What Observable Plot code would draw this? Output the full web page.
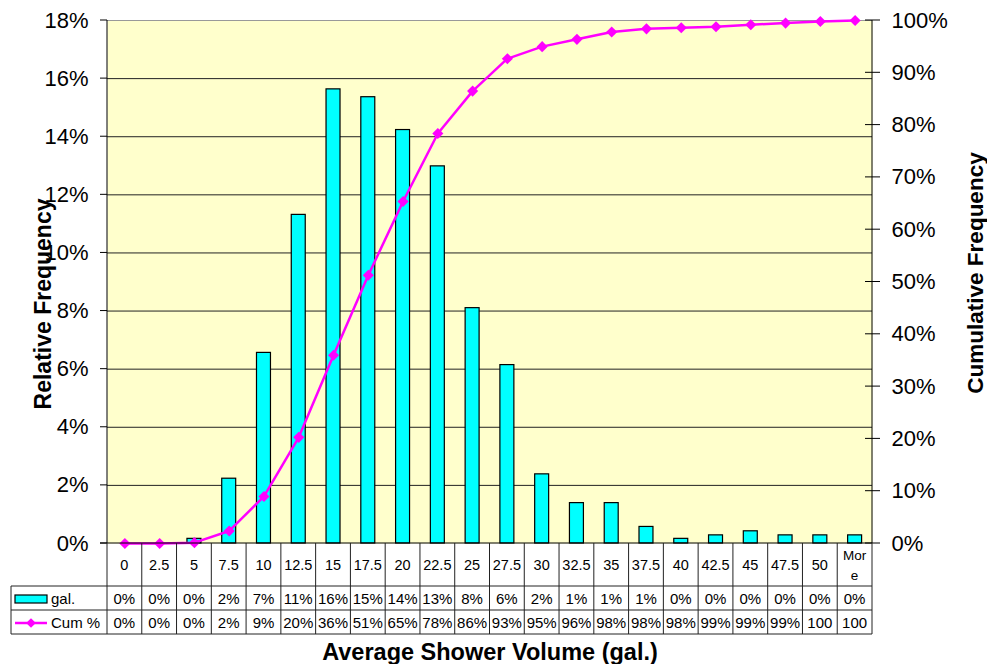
<!DOCTYPE html>
<html>
<head>
<meta charset="utf-8">
<script src="https://cdn.jsdelivr.net/npm/d3@7"></script>
<script src="https://cdn.jsdelivr.net/npm/@observablehq/plot@0.6"></script>
<style>
  html, body { margin: 0; padding: 0; background: #fff; }
  svg { display: block; font-family: Arial, "Liberation Sans", sans-serif; }
</style>
</head>
<body>
<div id="chart"></div>
<script>
// ---- data ----
const categories = ["0","2.5","5","7.5","10","12.5","15","17.5","20","22.5","25","27.5","30","32.5","35","37.5","40","42.5","45","47.5","50","More"];
// relative frequency (%) — bars
const relFreq = [0, 0, 0.16, 2.23, 6.56, 11.31, 15.63, 15.36, 14.23, 12.98, 8.10, 6.14, 2.38, 1.39, 1.39, 0.57, 0.16, 0.28, 0.42, 0.28, 0.28, 0.28];
// cumulative frequency (%) — line
const cumFreq = [0, 0, 0.16, 2.4, 9.0, 20.3, 36.0, 51.3, 65.4, 78.4, 86.5, 92.7, 95.0, 96.4, 97.8, 98.4, 98.6, 98.8, 99.2, 99.5, 99.8, 100];
// data-table labels
const galLabels = ["0%","0%","0%","2%","7%","11%","16%","15%","14%","13%","8%","6%","2%","1%","1%","1%","0%","0%","0%","0%","0%","0%"];
const cumLabels = ["0%","0%","0%","2%","9%","20%","36%","51%","65%","78%","86%","93%","95%","96%","98%","98%","98%","99%","99%","99%","100","100"];
// axis ticks
const leftTicks = [0, 2, 4, 6, 8, 10, 12, 14, 16, 18];
const rightTicks = [0, 10, 20, 30, 40, 50, 60, 70, 80, 90, 100];
const seriesNames = ["gal.", "Cum %"];
const titles = { x: "Average Shower Volume (gal.)", yLeft: "Relative Frequency", yRight: "Cumulative Frequency" };

const LEFT_MAX = 18;               // left axis max (%)
const CUM_TO_Y = LEFT_MAX / 100;   // map right axis (0–100%) onto left scale

const data = categories.map((c, i) => ({ cat: c, rel: relFreq[i], cum: cumFreq[i], gal: galLabels[i], cl: cumLabels[i] }));

const CYAN = "#00FFFF", MAGENTA = "#FF00FF";

function decorations(...args) {
  const scales = args.find(a => a && typeof a.x === "function" && typeof a.y === "function");
  const dims = args.find(a => a && typeof a.marginLeft === "number");
  const x = scales.x, y = scales.y;
  const bw = x.bandwidth();
  const left = dims.marginLeft, right = dims.width - dims.marginRight;
  const top = dims.marginTop, bottom = dims.height - dims.marginBottom;
  const g = d3.create("svg:g");

  // axis lines
  g.append("line").attr("x1", left).attr("x2", left).attr("y1", top).attr("y2", bottom).attr("stroke", "#000");
  g.append("line").attr("x1", right).attr("x2", right).attr("y1", top).attr("y2", bottom).attr("stroke", "#000");
  g.append("line").attr("x1", left - 7).attr("x2", right).attr("y1", y(0)).attr("y2", y(0)).attr("stroke", "#000");
  // left ticks
  for (const t of leftTicks) {
    g.append("line").attr("x1", left - 7).attr("x2", left).attr("y1", y(t)).attr("y2", y(t)).attr("stroke", "#000");
  }
  // right ticks (cross)
  for (const t of rightTicks) {
    g.append("line").attr("x1", right - 7).attr("x2", right + 8).attr("y1", y(t * CUM_TO_Y)).attr("y2", y(t * CUM_TO_Y)).attr("stroke", "#000");
  }

  // data table
  const r0 = bottom, r1 = bottom + 43, r2 = r1 + 24, r3 = r2 + 24;
  const tLeft = 11;
  const line = (x1, y1, x2, y2) => g.append("line").attr("x1", x1).attr("y1", y1).attr("x2", x2).attr("y2", y2).attr("stroke", "#222").attr("stroke-width", 1);
  line(left, r0, left, r3);
  for (const c of categories) {
    const xe = x(c) + bw;
    line(xe, r0, xe, r3);
  }
  line(tLeft, r1, right, r1);
  line(tLeft, r2, right, r2);
  line(tLeft, r3, right, r3);
  line(tLeft, r1, tLeft, r3);

  const txt = (tx, ty, s, size, anchor = "middle") => g.append("text").attr("x", tx).attr("y", ty).attr("dy", "0.35em")
      .attr("text-anchor", anchor).attr("font-size", size).attr("fill", "#000").text(s);

  for (const d of data) {
    const cx = x(d.cat) + bw / 2;
    if (d.cat === "More") {
      txt(cx, r0 + 12, "Mor", 13.5);
      txt(cx, r0 + 32, "e", 13.5);
    } else {
      txt(cx, (r0 + r1) / 2, d.cat, 14.5);
    }
    txt(cx, (r1 + r2) / 2 + 1, d.gal, 15);
    txt(cx, (r2 + r3) / 2 + 1, d.cl, 15);
  }
  // legend keys
  const ly1 = (r1 + r2) / 2 + 1, ly2 = (r2 + r3) / 2 + 1;
  g.append("rect").attr("x", 15).attr("y", ly1 - 4).attr("width", 32).attr("height", 8).attr("fill", CYAN).attr("stroke", "#000").attr("stroke-width", 1.2);
  txt(51, ly1, seriesNames[0], 15, "start");
  g.append("line").attr("x1", 15).attr("x2", 47).attr("y1", ly2).attr("y2", ly2).attr("stroke", MAGENTA).attr("stroke-width", 2.5);
  g.append("path").attr("d", d3.symbol(d3.symbolDiamond2, 60)()).attr("transform", `translate(31,${ly2})`).attr("fill", MAGENTA);
  txt(51, ly2, seriesNames[1], 15, "start");

  // axis titles
  g.append("text").attr("x", 490).attr("y", 652).attr("dy", "0.35em").attr("text-anchor", "middle")
    .attr("font-size", 23.5).attr("font-weight", "bold").text(titles.x);
  g.append("text").attr("transform", "translate(43,304) rotate(-90)").attr("dy", "0.35em").attr("text-anchor", "middle")
    .attr("font-size", 23).attr("font-weight", "bold").text(titles.yLeft);
  g.append("text").attr("transform", "translate(975,273) rotate(-90)").attr("dy", "0.35em").attr("text-anchor", "middle")
    .attr("font-size", 22.5).attr("font-weight", "bold").text(titles.yRight);
  return g.node();
}

const chart = Plot.plot({
  width: 987,
  height: 664,
  marginLeft: 107,
  marginRight: 115,
  marginTop: 20,
  marginBottom: 121,
  style: { fontFamily: 'Arial, "Liberation Sans", sans-serif', background: "#fff", overflow: "visible" },
  x: { type: "band", domain: categories, padding: 0, round: false, axis: null },
  y: { domain: [0, LEFT_MAX], axis: null },
  marks: [
    Plot.frame({ fill: "#FFFFCC", stroke: null }),
    Plot.ruleY(leftTicks.filter(t => t > 0 && t < LEFT_MAX), { y: d => d, stroke: "#222", strokeWidth: 1 }),
    Plot.ruleY([LEFT_MAX], { y: d => d, stroke: "#999", strokeWidth: 1 }),
    Plot.barY(data, { x: "cat", y: "rel", fill: CYAN, stroke: "#000", strokeWidth: 1.2, insetLeft: 10.4, insetRight: 10.4 }),
    Plot.line(data, { x: "cat", y: d => d.cum * CUM_TO_Y, stroke: MAGENTA, strokeWidth: 2.5 }),
    Plot.dot(data, { x: "cat", y: d => d.cum * CUM_TO_Y, symbol: "diamond2", r: 5, fill: MAGENTA, stroke: null }),
    Plot.text(leftTicks, { y: d => d, text: d => d + "%", frameAnchor: "left", textAnchor: "end", dx: -19, fontSize: 22, fill: "#000" }),
    Plot.text(rightTicks, { y: d => d * CUM_TO_Y, text: d => d + "%", frameAnchor: "right", textAnchor: "start", dx: 19, fontSize: 22, fill: "#000" }),
    decorations
  ]
});
document.getElementById("chart").appendChild(chart);
</script>
</body>
</html>
